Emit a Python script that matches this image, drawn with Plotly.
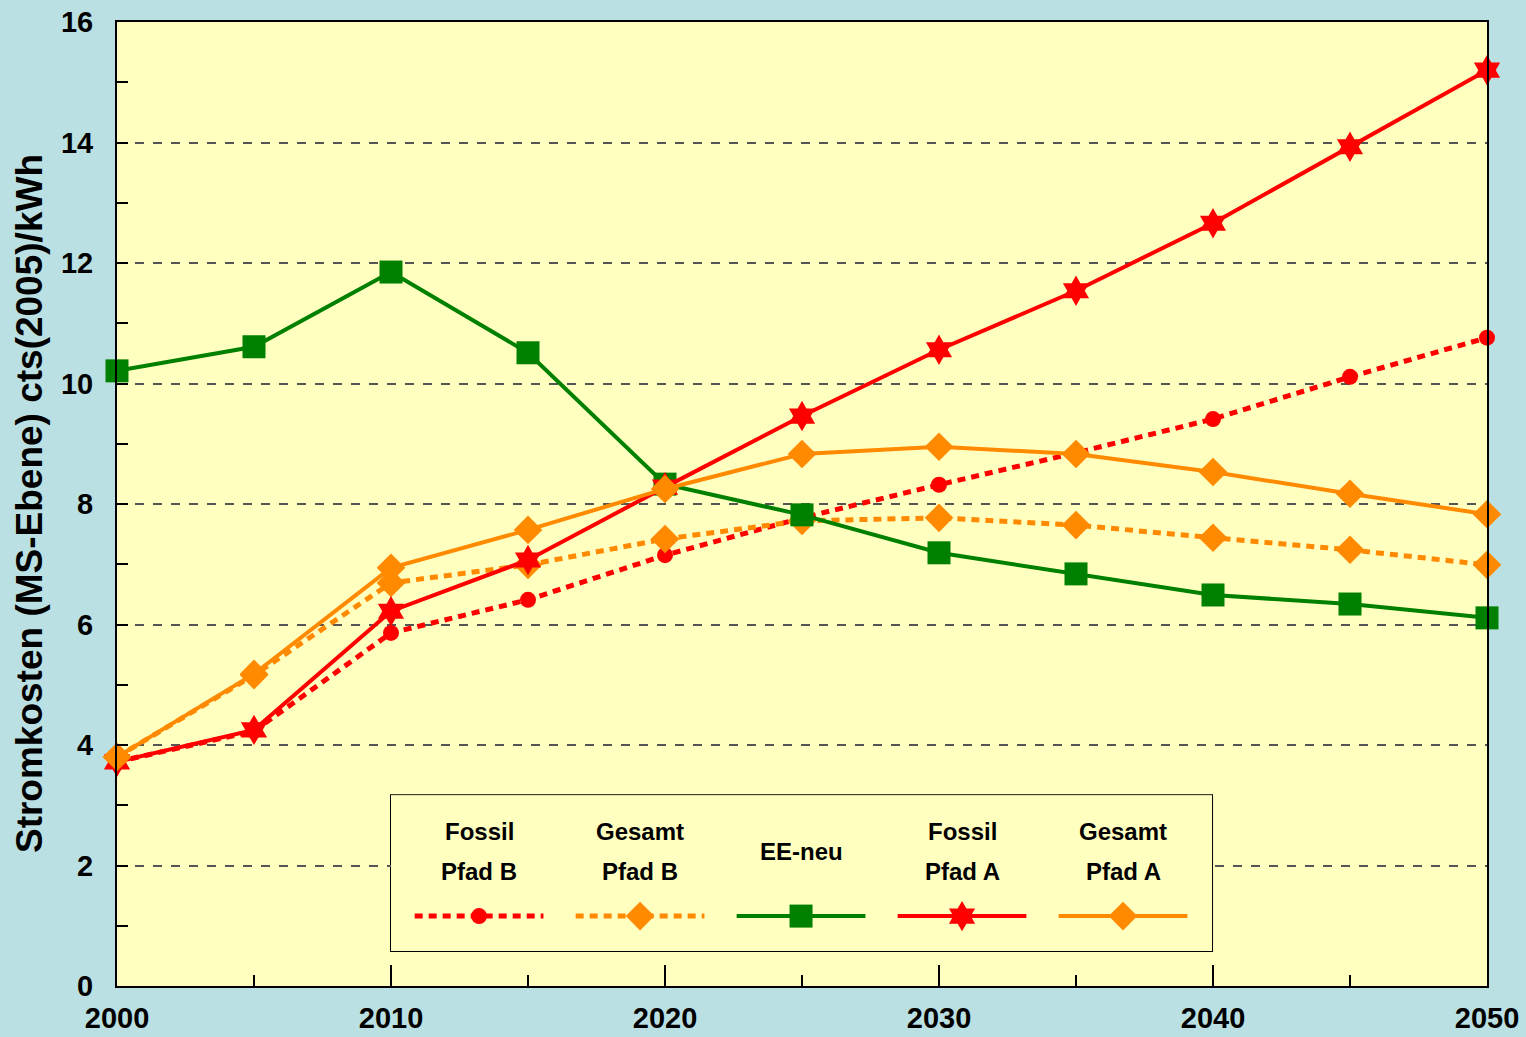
import plotly.graph_objects as go

# ---------------- data ----------------
years = [2000, 2005, 2010, 2015, 2020, 2025, 2030, 2035, 2040, 2045, 2050]
fossil_pfad_b = [3.72, 4.23, 5.86, 6.41, 7.15, 7.77, 8.32, 8.85, 9.41, 10.11, 10.76]
gesamt_pfad_b = [3.80, 5.16, 6.69, 6.99, 7.42, 7.72, 7.77, 7.65, 7.44, 7.24, 6.99]
ee_neu = [10.21, 10.61, 11.85, 10.51, 8.33, 7.82, 7.19, 6.84, 6.49, 6.34, 6.11]
fossil_pfad_a = [3.72, 4.25, 6.22, 7.07, 8.28, 9.46, 10.56, 11.54, 12.66, 13.93, 15.20]
gesamt_pfad_a = [3.80, 5.18, 6.94, 7.57, 8.25, 8.83, 8.95, 8.83, 8.53, 8.17, 7.83]

legend_line1 = ["Fossil", "Gesamt", "EE-neu", "Fossil", "Gesamt"]
legend_line2 = ["Pfad B", "Pfad B", "", "Pfad A", "Pfad A"]

y_title = "Stromkosten (MS-Ebene) cts(2005)/kWh"

# ---------------- styles ----------------
RED = "#FF0000"
ORANGE = "#FF8A00"
GREEN = "#008000"
DOT = "8px,6px"

series = [
    (fossil_pfad_b, RED, DOT, "circle", 16, 5),
    (gesamt_pfad_b, ORANGE, DOT, "diamond", 22, 5),
    (ee_neu, GREEN, "solid", "square", 23, 4),
    (fossil_pfad_a, RED, "solid", "hexagram", 23, 4),
    (gesamt_pfad_a, ORANGE, "solid", "diamond", 22, 4),
]
legend_order = [0, 1, 2, 3, 4]

FONT = "Liberation Sans, Arial, sans-serif"

fig = go.Figure()

for vals, col, dash, sym, size, lw in series:
    fig.add_trace(go.Scatter(
        x=years, y=vals, mode="lines+markers",
        line=dict(color=col, width=lw, dash=dash),
        marker=dict(symbol=sym, size=size, color=col, opacity=1, line=dict(width=0)),
        cliponaxis=False, showlegend=False, hoverinfo="skip",
    ))

# custom legend drawn in an inset subplot
for i, idx in enumerate(legend_order):
    vals, col, dash, sym, size, lw = series[idx]
    fig.add_trace(go.Scatter(
        x=[i - 0.4, i + 0.4], y=[0.224, 0.224],
        xaxis="x2", yaxis="y2", mode="lines",
        line=dict(color=col, width=lw, dash=dash),
        cliponaxis=False, showlegend=False, hoverinfo="skip",
    ))
    fig.add_trace(go.Scatter(
        x=[i], y=[0.224],
        xaxis="x2", yaxis="y2", mode="markers",
        marker=dict(symbol=sym, size=size, color=col, opacity=1, line=dict(width=0)),
        cliponaxis=False, showlegend=False, hoverinfo="skip",
    ))
    lf = dict(family=FONT, size=24, color="black", weight="bold")
    if legend_line2[i]:
        fig.add_annotation(x=i, y=0.769, xref="x2", yref="y2", text=legend_line1[i],
                           showarrow=False, font=lf)
        fig.add_annotation(x=i, y=0.513, xref="x2", yref="y2", text=legend_line2[i],
                           showarrow=False, font=lf)
    else:
        fig.add_annotation(x=i, y=0.641, xref="x2", yref="y2", text=legend_line1[i],
                           showarrow=False, font=lf)

fig.add_shape(type="rect", xref="x2 domain", yref="y2 domain", x0=0, x1=1, y0=0, y1=1,
              fillcolor="white", line=dict(color="black", width=2), layer="below")

fig.add_annotation(x=-0.0642, y=0.5, xref="paper", yref="paper", text=y_title,
                   textangle=-90, showarrow=False, xanchor="center", yanchor="middle",
                   font=dict(family=FONT, size=37, color="black", weight="bold"))

fig.update_layout(
    width=1526, height=1037,
    margin=dict(l=117, r=39, t=22, b=51, autoexpand=False),
    paper_bgcolor="#BBE0E3",
    plot_bgcolor="#FFFFC0",
    showlegend=False,
    xaxis=dict(
        range=[2000, 2050], tickmode="linear", tick0=2000, dtick=10,
        ticks="inside", ticklen=21, tickwidth=1.5, tickcolor="black",
        minor=dict(dtick=5, ticks="inside", ticklen=11, tickwidth=1.5, tickcolor="black", showgrid=False),
        showgrid=False, zeroline=False, automargin=False,
        showline=True, linecolor="black", linewidth=2, mirror=True,
        tickfont=dict(family=FONT, size=29, color="black", weight="bold"),
        ticklabelstandoff=5,
    ),
    yaxis=dict(
        range=[0, 16], tickmode="linear", tick0=0, dtick=2,
        ticks="inside", ticklen=11, tickwidth=1.5, tickcolor="black",
        minor=dict(dtick=1, ticks="inside", ticklen=11, tickwidth=1.5, tickcolor="black", showgrid=False),
        showgrid=True, gridcolor="#555555", gridwidth=1.5, griddash="dash",
        zeroline=False, automargin=False,
        showline=True, linecolor="black", linewidth=2, mirror=True,
        tickfont=dict(family=FONT, size=29, color="black", weight="bold"),
        ticklabelstandoff=16,
    ),
    xaxis2=dict(domain=[0.2, 0.7993], range=[-0.547, 4.553], visible=False, fixedrange=True),
    yaxis2=dict(domain=[0.0363, 0.198], range=[0, 1], visible=False, fixedrange=True),
)

fig.write_html("out.html", config={"displayModeBar": False},
               post_script="document.body.style.margin='0';document.body.style.overflow='hidden';")
